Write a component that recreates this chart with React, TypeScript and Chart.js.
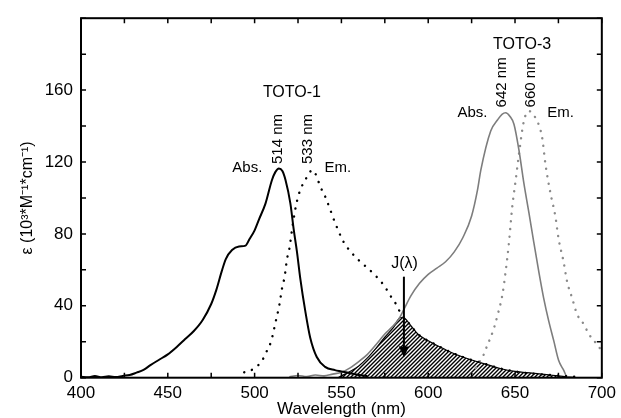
import React, { useEffect, useRef } from "react";
import { Chart, registerables } from "chart.js";

Chart.register(...registerables);

const FONT = '"Liberation Sans", Arial, sans-serif';

// TOTO-1 absorption (black solid)
const abs1X = [400, 404, 408, 412, 416, 420, 424, 428, 432, 436, 440, 445, 450, 455, 460, 465, 470, 475, 478, 481, 483.4, 487, 491, 494.8, 497, 500, 502.5, 506.3, 510, 512, 514, 516, 517.8, 520.6, 522.5, 524.4, 526.3, 529.2, 532, 535.8, 540.6, 546.3, 550, 555, 560, 565];
const abs1Y = [0.6, 0.2, 0.9, 0.3, 0.8, 0.4, 1.0, 1.5, 2.8, 4.3, 7, 10, 13, 17, 21.5, 26, 32, 41, 49, 59, 66, 71, 73, 73.5, 77, 82, 88, 97, 110, 114.5, 116.4, 115, 110, 97, 82.6, 70, 55.3, 37, 22.4, 11.5, 6, 4.2, 3.5, 2.5, 1.5, 1];

// TOTO-1 emission (black dotted)
const em1X = [494, 499.6, 504.4, 507.2, 509.5, 512, 514.3, 515.8, 517.3, 518.7, 520, 521.6, 523.1, 524.4, 526.3, 529.2, 532, 533.5, 535.8, 537.8, 540.6, 543.5, 546.3, 551, 555, 560, 565.4, 570.2, 575, 577.8, 581.6, 584.5, 586.5, 590, 594, 603.6, 613, 622.7, 632.2, 641.7, 651.3, 670, 685];
const em1Y = [3, 5, 9.7, 15.2, 20.2, 30.6, 40.7, 49.8, 56.2, 66.2, 71.7, 82.6, 91.8, 98.2, 104.5, 110, 114.6, 115.5, 111.8, 106.4, 100.9, 93.6, 86.3, 76, 70.5, 65.3, 60.7, 56.2, 50.7, 46.2, 40.7, 35.2, 33, 29, 24.3, 18.8, 14.2, 10.6, 7.9, 5.1, 3.3, 1.5, 0.5];

// TOTO-3 absorption (grey solid)
const abs3X = [520, 525, 530, 535, 540, 545, 550, 555, 560, 565, 570, 575, 580, 583, 586, 590, 595, 600, 605, 610, 615, 620, 625, 628.4, 630.3, 636, 640, 642.5, 644.6, 647, 649.4, 652.3, 655.1, 658, 660.8, 663.7, 666.5, 669.4, 672.3, 675.1, 678, 680, 685];
const abs3Y = [0.5, 1.2, 0.6, 1.5, 1, 2, 3, 5.5, 9, 13, 18.5, 24.3, 29, 32.5, 38, 45.5, 52.5, 57.5, 61, 64.5, 70, 78, 90, 104.5, 115.5, 137.3, 143.5, 146.5, 147.4, 145.5, 141, 126.4, 108.2, 91.8, 75.4, 59, 44.3, 31.6, 20.6, 9.7, 4.2, 0.5, 0];

// TOTO-3 emission (grey dotted)
const em3X = [625, 628.4, 630, 632.2, 634, 636, 638, 640, 642.7, 644.6, 646.5, 648.4, 650.4, 652.3, 655.1, 658, 661.7, 665.6, 667.5, 670.4, 673.2, 675.1, 678, 680, 682.9, 685.8, 689.6, 692.5, 696.2, 700];
const em3Y = [2, 7, 9.5, 13.3, 18, 22.5, 28, 35, 46, 59, 75, 95, 110, 124.6, 142.8, 148.3, 144.7, 133.7, 119, 102.7, 90, 77.2, 64.4, 53.5, 44.3, 35.2, 29.8, 24.3, 19.7, 15];

// Overlap J(λ) (hatched)
const jX = [548, 552, 556, 560, 565, 570, 575, 580, 584, 586.5, 590, 594, 600, 606, 613, 620, 627, 635, 642, 650, 660, 670, 680, 685];
const jY = [0, 2, 4, 6.5, 11, 16.5, 22.5, 28, 33.5, 33, 29, 24.3, 20.5, 17.5, 14.2, 11.5, 9.3, 7, 5, 3.5, 2.5, 1.5, 0.5, 0];

const xTicks = [400, 450, 500, 550, 600, 650, 700];
const yTicks = [0, 40, 80, 120, 160];

const toPts = (xs: number[], ys: number[]) => xs.map((x, i) => ({ x, y: ys[i] }));

// text annotations anchored to data coordinates
const textLabels = [
  { text: "TOTO-1", x: 521.5, y: 158.4, rot: false, align: "center", size: 16 },
  { text: "514 nm", x: 513.5, y: 132.8, rot: true, align: "center", size: 15 },
  { text: "533 nm", x: 530.7, y: 132.8, rot: true, align: "center", size: 15 },
  { text: "Abs.", x: 495.8, y: 117, rot: false, align: "center", size: 15 },
  { text: "Em.", x: 540.2, y: 117, rot: false, align: "left", size: 15 },
  { text: "TOTO-3", x: 654.1, y: 185.3, rot: false, align: "center", size: 16 },
  { text: "642 nm", x: 642.7, y: 164.3, rot: true, align: "center", size: 15 },
  { text: "660 nm", x: 658.9, y: 164.3, rot: true, align: "center", size: 15 },
  { text: "Abs.", x: 625.5, y: 147.4, rot: false, align: "center", size: 15 },
  { text: "Em.", x: 668.5, y: 147.6, rot: false, align: "left", size: 15 },
  { text: "J(λ)", x: 586.4, y: 63.5, rot: false, align: "center", size: 16 },
];
const arrowX = 586;
const arrowFrom = 56.2;
const arrowTo = 11.3;

function makeHatch(): CanvasPattern | string {
  const s = 4;
  const c = document.createElement("canvas");
  c.width = s;
  c.height = s;
  const g = c.getContext("2d");
  if (!g) return "#000";
  g.strokeStyle = "#000";
  g.lineWidth = 1.4;
  g.beginPath();
  g.moveTo(0, s);
  g.lineTo(s, 0);
  g.moveTo(-1, 1);
  g.lineTo(1, -1);
  g.moveTo(s - 1, s + 1);
  g.lineTo(s + 1, s - 1);
  g.stroke();
  const p = g.createPattern(c, "repeat");
  return p || "#000";
}

const framePlugin = {
  id: "frameAndLabels",
  afterDatasetsDraw(chart: any) {
    const { ctx, chartArea, scales } = chart;
    const xs = scales.x;
    const ys = scales.y;
    const { left, right, top, bottom } = chartArea;
    ctx.save();
    // frame
    ctx.strokeStyle = "#000";
    ctx.lineWidth = 2;
    ctx.strokeRect(left, top, right - left, bottom - top);
    // inward ticks
    ctx.lineWidth = 1.5;
    ctx.beginPath();
    for (let v = 400; v <= 700; v += 25) {
      const px = xs.getPixelForValue(v);
      ctx.moveTo(px, bottom);
      ctx.lineTo(px, bottom - 5);
      ctx.moveTo(px, top);
      ctx.lineTo(px, top + 5);
    }
    for (let v = 0; v <= 200; v += 20) {
      const py = ys.getPixelForValue(v);
      ctx.moveTo(left, py);
      ctx.lineTo(left + 5, py);
      ctx.moveTo(right, py);
      ctx.lineTo(right - 5, py);
    }
    ctx.stroke();

    // labels
    ctx.fillStyle = "#000";
    ctx.textBaseline = "middle";
    for (const l of textLabels) {
      const px = xs.getPixelForValue(l.x);
      const py = ys.getPixelForValue(l.y);
      ctx.font = `${l.size}px ${FONT}`;
      ctx.save();
      ctx.translate(px, py);
      if (l.rot) ctx.rotate(-Math.PI / 2);
      ctx.textAlign = l.align as CanvasTextAlign;
      ctx.fillText(l.text, 0, 0);
      ctx.restore();
    }

    // arrow
    const ax = xs.getPixelForValue(arrowX);
    const ay1 = ys.getPixelForValue(arrowFrom);
    const ay2 = ys.getPixelForValue(arrowTo);
    ctx.lineWidth = 2;
    ctx.beginPath();
    ctx.moveTo(ax, ay1);
    ctx.lineTo(ax, ay2 - 8);
    ctx.stroke();
    ctx.beginPath();
    ctx.moveTo(ax, ay2);
    ctx.lineTo(ax - 5, ay2 - 11);
    ctx.lineTo(ax + 5, ay2 - 11);
    ctx.closePath();
    ctx.fill();
    ctx.restore();
  },
};

export default function App() {
  const ref = useRef<HTMLCanvasElement | null>(null);

  useEffect(() => {
    document.body.style.margin = "0";
    if (!ref.current) return;
    const hatch = makeHatch();
    const common = { pointRadius: 0, fill: false, tension: 0.3, cubicInterpolationMode: "monotone" as const };
    const chart = new Chart(ref.current, {
      type: "line",
      data: {
        datasets: [
          {
            label: "J",
            data: toPts(jX, jY),
            borderColor: "#000",
            borderWidth: 1.2,
            backgroundColor: hatch as any,
            fill: "origin",
            pointRadius: 0,
            tension: 0.3,
            cubicInterpolationMode: "monotone",
            order: 10,
          },
          {
            label: "TOTO-3 Abs",
            data: toPts(abs3X, abs3Y),
            borderColor: "#7d7d7d",
            borderWidth: 1.6,
            ...common,
            order: 2,
          },
          {
            label: "TOTO-3 Em",
            data: toPts(em3X, em3Y),
            borderColor: "#8a8a8a",
            borderWidth: 2.4,
            borderDash: [0.1, 7.5],
            borderCapStyle: "round",
            ...common,
            order: 2,
          },
          {
            label: "TOTO-1 Abs",
            data: toPts(abs1X, abs1Y),
            borderColor: "#000",
            borderWidth: 2,
            ...common,
            order: 1,
          },
          {
            label: "TOTO-1 Em",
            data: toPts(em1X, em1Y),
            borderColor: "#000",
            borderWidth: 2.4,
            borderDash: [0.1, 8],
            borderCapStyle: "round",
            ...common,
            order: 1,
          },
        ],
      },
      options: {
        animation: false,
        responsive: false,
        devicePixelRatio: 1,
        layout: { padding: { top: 14, right: 15.5, left: 0, bottom: 0 } },
        plugins: { legend: { display: false }, tooltip: { enabled: false } },
        scales: {
          x: {
            type: "linear",
            min: 400,
            max: 700,
            afterBuildTicks: (s: any) => {
              s.ticks = xTicks.map((v) => ({ value: v }));
            },
            afterFit: (s: any) => {
              s.height = 40.3;
            },
            grid: { display: false, drawTicks: false },
            border: { display: false },
            ticks: { color: "#000", font: { family: FONT, size: 17 }, padding: 5, maxRotation: 0, autoSkip: false },
            title: {
              display: true,
              text: "Wavelength (nm)",
              color: "#000",
              font: { family: FONT, size: 17 },
              padding: { top: 0, bottom: -2 },
            },
          },
          y: {
            type: "linear",
            min: 0,
            max: 200,
            afterBuildTicks: (s: any) => {
              s.ticks = yTicks.map((v) => ({ value: v }));
            },
            afterFit: (s: any) => {
              s.width = 81;
            },
            grid: { display: false, drawTicks: false },
            border: { display: false },
            ticks: { color: "#000", font: { family: FONT, size: 17 }, padding: 8 },
            title: {
              display: true,
              text: "ε (10³*M⁻¹*cm⁻¹)",
              color: "#000",
              font: { family: FONT, size: 16 },
              padding: { top: 18.4, bottom: 0 },
            },
          },
        },
      },
      plugins: [framePlugin],
    });
    return () => chart.destroy();
  }, []);

  return (
    <div style={{ position: "absolute", left: 0, top: 0, width: 621, height: 418, background: "#fff" }}>
      <canvas ref={ref} width={621} height={418} style={{ display: "block", width: 621, height: 418 }} />
    </div>
  );
}
